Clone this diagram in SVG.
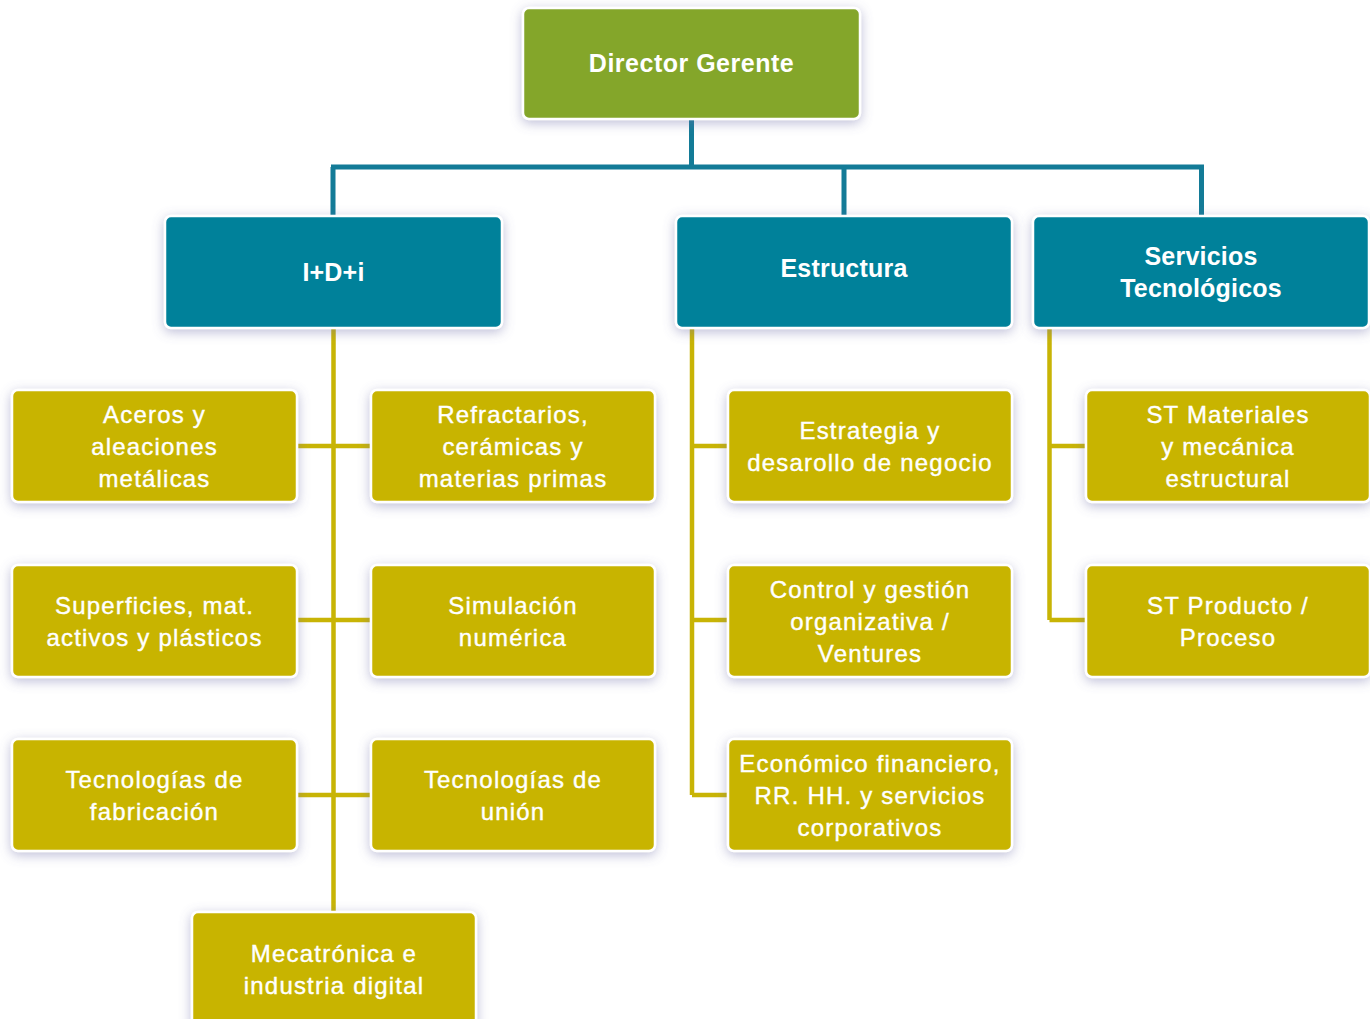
<svg xmlns="http://www.w3.org/2000/svg" width="1370" height="1019" viewBox="0 0 1370 1019">
<defs>
<filter id="sh" x="-20%" y="-30%" width="140%" height="160%">
<feDropShadow dx="0" dy="3" stdDeviation="6" flood-color="#6f6fa8" flood-opacity="0.45"/>
</filter>
<style>
.box{stroke:#ffffff;stroke-width:2.5;filter:url(#sh)}
.g{fill:#84a62c}
.b{fill:#02819a}
.y{fill:#c8b405}
.t{font-family:"Liberation Sans",Arial,sans-serif;font-size:24px;fill:#ffffff;stroke:#ffffff;stroke-width:0.4;text-anchor:middle;letter-spacing:1.2px}
.tb{font-family:"Liberation Sans",Arial,sans-serif;font-size:25px;font-weight:bold;fill:#ffffff;text-anchor:middle;letter-spacing:0.2px}
.tg{letter-spacing:0.5px}
.lt{stroke:#137b97;stroke-width:5;fill:none}
.ly{stroke:#c8b405;stroke-width:4.5;fill:none}
</style>
</defs>
<rect width="1370" height="1019" fill="#ffffff"/>
<g id="connectors">
<path class="lt" d="M691.5 120V167M331 167H1204M333 167V216M844 167V216M1201.5 167V216"/>
<path class="ly" d="M333.5 328V912M297 446H371M297 620H371M297 795H371"/>
<path class="ly" d="M692 328V795M692 446H728M692 620H728M692 795H728"/>
<path class="ly" d="M1049.5 328V620M1049.5 446H1086M1049.5 620H1086"/>
</g>
<g id="director">
<rect class="box g" x="523" y="8" width="337" height="111" rx="6"/>
<text class="tb tg" x="691.5" y="72">Director Gerente</text>
</g>
<g id="idi">
<rect class="box b" x="165" y="216" width="337" height="112" rx="6"/>
<text class="tb" x="333.5" y="281">I+D+i</text>
</g>
<g id="estructura">
<rect class="box b" x="676" y="216" width="336" height="112" rx="6"/>
<text class="tb" x="844" y="277">Estructura</text>
</g>
<g id="servicios">
<rect class="box b" x="1033" y="216" width="336" height="112" rx="6"/>
<text class="tb" x="1201" y="265">Servicios</text>
<text class="tb" x="1201" y="297">Tecnológicos</text>
</g>
<g id="aceros">
<rect class="box y" x="12" y="390" width="285" height="112" rx="6"/>
<text class="t" x="154.5" y="423">Aceros y</text>
<text class="t" x="154.5" y="455">aleaciones</text>
<text class="t" x="154.5" y="487">metálicas</text>
</g>
<g id="refractarios">
<rect class="box y" x="371" y="390" width="284" height="112" rx="6"/>
<text class="t" x="513" y="423">Refractarios,</text>
<text class="t" x="513" y="455">cerámicas y</text>
<text class="t" x="513" y="487">materias primas</text>
</g>
<g id="superficies">
<rect class="box y" x="12" y="565" width="285" height="112" rx="6"/>
<text class="t" x="154.5" y="614">Superficies, mat.</text>
<text class="t" x="154.5" y="646">activos y plásticos</text>
</g>
<g id="simulacion">
<rect class="box y" x="371" y="565" width="284" height="112" rx="6"/>
<text class="t" x="513" y="614">Simulación</text>
<text class="t" x="513" y="646">numérica</text>
</g>
<g id="fabricacion">
<rect class="box y" x="12" y="739" width="285" height="112" rx="6"/>
<text class="t" x="154.5" y="788">Tecnologías de</text>
<text class="t" x="154.5" y="820">fabricación</text>
</g>
<g id="union">
<rect class="box y" x="371" y="739" width="284" height="112" rx="6"/>
<text class="t" x="513" y="788">Tecnologías de</text>
<text class="t" x="513" y="820">unión</text>
</g>
<g id="mecatronica">
<rect class="box y" x="192" y="912" width="284" height="130" rx="6"/>
<text class="t" x="334" y="962">Mecatrónica e</text>
<text class="t" x="334" y="994">industria digital</text>
</g>
<g id="estrategia">
<rect class="box y" x="728" y="390" width="284" height="112" rx="6"/>
<text class="t" x="870" y="439">Estrategia y</text>
<text class="t" x="870" y="471">desarollo de negocio</text>
</g>
<g id="control">
<rect class="box y" x="728" y="565" width="284" height="112" rx="6"/>
<text class="t" x="870" y="598">Control y gestión</text>
<text class="t" x="870" y="630">organizativa /</text>
<text class="t" x="870" y="662">Ventures</text>
</g>
<g id="economico">
<rect class="box y" x="728" y="739" width="284" height="112" rx="6"/>
<text class="t" x="870" y="772">Económico financiero,</text>
<text class="t" x="870" y="804">RR. HH. y servicios</text>
<text class="t" x="870" y="836">corporativos</text>
</g>
<g id="st-materiales">
<rect class="box y" x="1086" y="390" width="284" height="112" rx="6"/>
<text class="t" x="1228" y="423">ST Materiales</text>
<text class="t" x="1228" y="455">y mecánica</text>
<text class="t" x="1228" y="487">estructural</text>
</g>
<g id="st-producto">
<rect class="box y" x="1086" y="565" width="284" height="112" rx="6"/>
<text class="t" x="1228" y="614">ST Producto /</text>
<text class="t" x="1228" y="646">Proceso</text>
</g>
</svg>
